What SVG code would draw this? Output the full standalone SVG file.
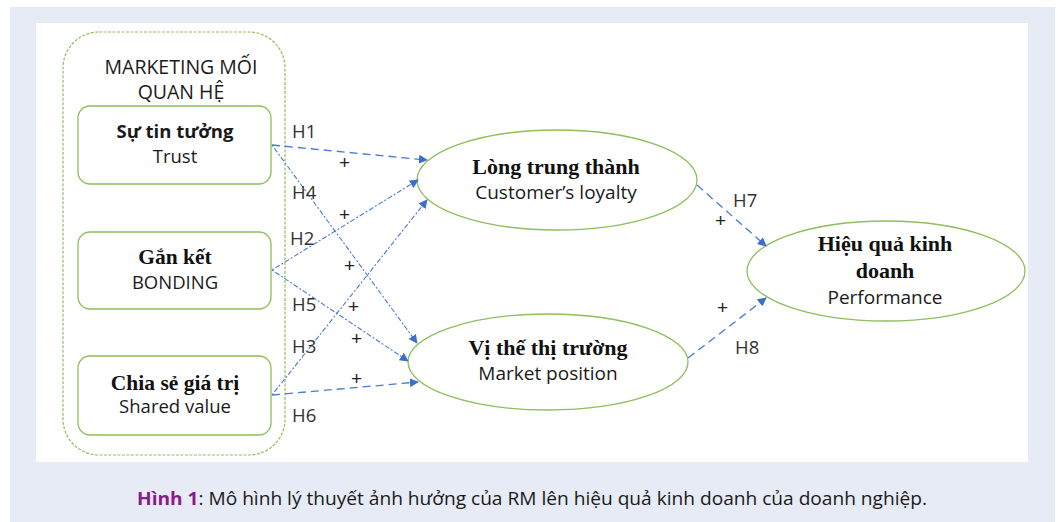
<svg xmlns="http://www.w3.org/2000/svg" width="1058" height="522" viewBox="0 0 1058 522">
<style>
.node{fill:#fff;stroke:#8dbf5a;stroke-width:1.3}
.sans{font-family:"Open Sans","Liberation Sans",sans-serif;fill:#1a1a1a}
.serif{font-family:"Liberation Serif","DejaVu Serif",serif;font-weight:bold;fill:#111}
.lbl{font-family:"Open Sans","Liberation Sans",sans-serif;font-size:18.5px;fill:#333}
.plus{font-family:"Liberation Sans",sans-serif;font-size:19px;fill:#222}
.dash{stroke:#4a7bd0;stroke-width:1.3;fill:none;stroke-dasharray:8 5}
.dot{stroke:#4a7bd0;stroke-width:1.1;fill:none;stroke-dasharray:2 2 5 2}
</style>
<defs>
<marker id="ah" viewBox="0 0 10 10" refX="9" refY="5" markerWidth="9" markerHeight="9" markerUnits="userSpaceOnUse" orient="auto">
<path d="M0,0 L10,5 L0,10 z" fill="#3d6fc8"/>
</marker>
</defs>
<rect x="10" y="7" width="1045" height="515" fill="#e6ebf5"/>
<rect x="36" y="23" width="992" height="439" fill="#fff"/>

<g id="group-rm">
<rect x="63" y="32" width="222" height="423" rx="36" fill="none" stroke="#8dbf5a" stroke-width="1.2" stroke-dasharray="3 1.5"/>
<text class="sans" font-size="19.5" text-anchor="middle"><tspan x="181" y="74">MARKETING MỐI</tspan><tspan x="181" y="99">QUAN HỆ</tspan></text>
</g>

<g id="node-trust">
<rect class="node" x="78" y="106" width="193" height="78" rx="12"/>
<text class="sans" font-size="18.5" font-weight="bold" text-anchor="middle" x="175" y="138">Sự tin tưởng</text>
<text class="sans" font-size="18.5" text-anchor="middle" x="175" y="163">Trust</text>
</g>

<g id="node-bonding">
<rect class="node" x="78" y="232" width="193" height="77" rx="12"/>
<text class="serif" font-size="21.5" text-anchor="middle" x="175" y="264">Gắn kết</text>
<text class="sans" font-size="18.5" text-anchor="middle" x="175" y="289">BONDING</text>
</g>

<g id="node-shared">
<rect class="node" x="78" y="356" width="193" height="79" rx="12"/>
<text class="serif" font-size="21.5" text-anchor="middle" x="175" y="390">Chia sẻ giá trị</text>
<text class="sans" font-size="18.5" text-anchor="middle" x="175" y="413">Shared value</text>
</g>

<g id="node-loyalty">
<ellipse class="node" cx="557" cy="180" rx="140" ry="50"/>
<text class="serif" font-size="22" text-anchor="middle" x="556" y="174">Lòng trung thành</text>
<text class="sans" font-size="19" text-anchor="middle" x="556" y="199">Customer’s loyalty</text>
</g>

<g id="node-market">
<ellipse class="node" cx="548" cy="362" rx="140" ry="48"/>
<text class="serif" font-size="22" text-anchor="middle" x="548" y="355">Vị thế thị trường</text>
<text class="sans" font-size="19" text-anchor="middle" x="548" y="380">Market position</text>
</g>

<g id="node-performance">
<ellipse class="node" cx="886" cy="271" rx="139" ry="50"/>
<text class="serif" font-size="22" text-anchor="middle" x="885" y="251">Hiệu quả kinh</text>
<text class="serif" font-size="22" text-anchor="middle" x="885" y="278">doanh</text>
<text class="sans" font-size="19" text-anchor="middle" x="885" y="304">Performance</text>
</g>

<g id="connectors">
<line class="dash" x1="272" y1="145" x2="427" y2="160" marker-end="url(#ah)"/>
<line class="dot" x1="272" y1="145" x2="417" y2="343" marker-end="url(#ah)"/>
<line class="dot" x1="272" y1="270" x2="418" y2="180" marker-end="url(#ah)"/>
<line class="dot" x1="272" y1="270" x2="408" y2="361" marker-end="url(#ah)"/>
<line class="dot" x1="272" y1="395" x2="427" y2="200" marker-end="url(#ah)"/>
<line class="dash" x1="272" y1="395" x2="418" y2="382" marker-end="url(#ah)"/>
<line class="dash" x1="697" y1="185" x2="766" y2="246" marker-end="url(#ah)"/>
<line class="dash" x1="688" y1="358" x2="766" y2="298" marker-end="url(#ah)"/>
</g>

<g id="labels">
<text class="lbl" x="292" y="138">H1</text>
<text class="lbl" x="292" y="199">H4</text>
<text class="lbl" x="290" y="245">H2</text>
<text class="lbl" x="292" y="311">H5</text>
<text class="lbl" x="292" y="353">H3</text>
<text class="lbl" x="292" y="422">H6</text>
<text class="lbl" x="733" y="207">H7</text>
<text class="lbl" x="735" y="354">H8</text>
<text class="plus" x="339" y="169">+</text>
<text class="plus" x="339" y="221">+</text>
<text class="plus" x="344" y="272">+</text>
<text class="plus" x="348" y="313">+</text>
<text class="plus" x="351" y="345">+</text>
<text class="plus" x="351" y="385">+</text>
<text class="plus" x="715" y="227">+</text>
<text class="plus" x="717" y="314">+</text>
</g>

<text x="137" y="505" font-family="Open Sans,Liberation Sans,sans-serif" font-size="17.5" fill="#1a1a1a" textLength="790" lengthAdjust="spacingAndGlyphs"><tspan font-weight="bold" fill="#8b1a8b">Hình 1</tspan>: Mô hình lý thuyết ảnh hưởng của RM lên hiệu quả kinh doanh của doanh nghiệp.</text>
</svg>
